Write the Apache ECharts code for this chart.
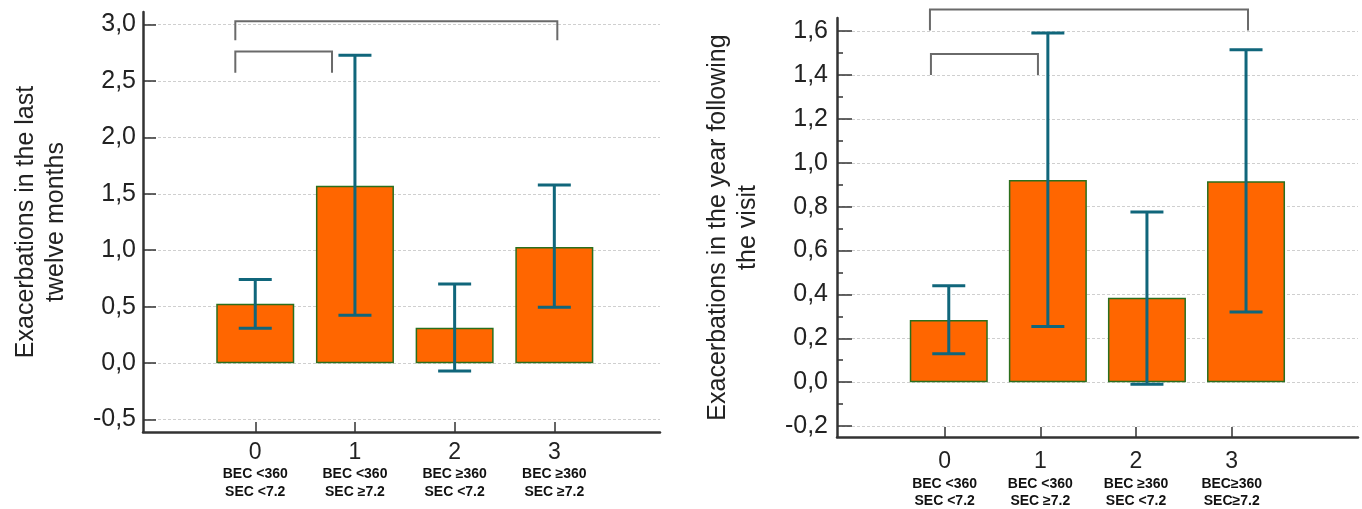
<!DOCTYPE html>
<html>
<head>
<meta charset="utf-8">
<script src="https://cdn.jsdelivr.net/npm/echarts@6/dist/echarts.min.js"></script>
<style>
html,body{margin:0;padding:0;background:#fff;}
#chart{width:1362px;height:509px;}
</style>
</head>
<body>
<div id="chart"></div>
<script>
// ---------- data ----------
const categories = ['0', '1', '2', '3'];
const positions = [0, 1, 2, 3];
const groupLabelsLeft = ['BEC <360\nSEC <7.2', 'BEC <360\nSEC ≥7.2', 'BEC ≥360\nSEC <7.2', 'BEC ≥360\nSEC ≥7.2'];
const groupLabelsRight = ['BEC <360\nSEC <7.2', 'BEC <360\nSEC ≥7.2', 'BEC ≥360\nSEC <7.2', 'BEC≥360\nSEC≥7.2'];

const lastYearMean = [0.527, 1.572, 0.314, 1.028];
const lastYearLow  = [0.31, 0.423, -0.07, 0.494];
const lastYearHigh = [0.74, 2.726, 0.70, 1.577];

const nextYearMean = [0.283, 0.922, 0.385, 0.916];
const nextYearLow  = [0.13, 0.254, -0.01, 0.32];
const nextYearHigh = [0.44, 1.592, 0.776, 1.515];

const leftTicks = [-0.5, 0, 0.5, 1, 1.5, 2, 2.5, 3];
const rightTicks = [-0.2, 0, 0.2, 0.4, 0.6, 0.8, 1.0, 1.2, 1.4, 1.6];
const rightMinorTicks = [-0.1, 0.1, 0.3, 0.5, 0.7, 0.9, 1.1, 1.3, 1.5];

const leftBracketStart  = [-0.2, -0.2];
const leftBracketEnd    = [3.03, 0.77];
const leftBracketTop    = [3.027, 2.76];
const leftBracketBottom = [2.86, 2.573];

const rightBracketStart  = [-0.19, -0.18];
const rightBracketEnd    = [3.02, 0.90];
const rightBracketTop    = [1.699, 1.496];
const rightBracketBottom = [1.603, 1.40];

const leftTitle = 'Exacerbations in the last\ntwelve months';
const rightTitle = 'Exacerbations in the year following\nthe visit';

// ---------- helpers ----------
const FONT = 'Liberation Sans, Arial, sans-serif';
const BAR_COLOR = '#FF6600';
const BAR_BORDER = '#2b6f1d';
const ERR_COLOR = '#10667b';
const BRACKET_COLOR = '#6a6a6a';
const AXIS_COLOR = '#333333';

function fmtComma(v) {
  return v.toFixed(1).replace('.', ',');
}

function errorRenderer(params, api) {
  const x = api.value(0), lo = api.value(1), hi = api.value(2);
  const pLo = api.coord([x, lo]);
  const pHi = api.coord([x, hi]);
  const half = 16.5;
  const style = { stroke: ERR_COLOR, lineWidth: 3 };
  return {
    type: 'group',
    children: [
      { type: 'line', shape: { x1: pLo[0], y1: pLo[1], x2: pHi[0], y2: pHi[1] }, style: style },
      { type: 'line', shape: { x1: pLo[0] - half, y1: pLo[1], x2: pLo[0] + half, y2: pLo[1] }, style: style },
      { type: 'line', shape: { x1: pHi[0] - half, y1: pHi[1], x2: pHi[0] + half, y2: pHi[1] }, style: style }
    ]
  };
}

function bracketRenderer(params, api) {
  const s = api.value(0), e = api.value(1), t = api.value(2), b = api.value(3);
  const pts = [api.coord([s, b]), api.coord([s, t]), api.coord([e, t]), api.coord([e, b])];
  return {
    type: 'polyline',
    shape: { points: pts },
    style: { stroke: BRACKET_COLOR, lineWidth: 2, fill: 'none' }
  };
}

function xLabel(groupLabels) {
  return function (v) {
    const i = Math.round(v);
    return '{n|' + categories[i] + '}\n{s|' + groupLabels[i] + '}';
  };
}

const gridLine = { show: true, lineStyle: { color: '#cfcfcf', type: [3, 2], width: 1 } };

const option = {
  animation: false,
  backgroundColor: '#ffffff',
  textStyle: { fontFamily: FONT },
  grid: [
    { left: 143, top: 12, width: 517, height: 420, outerBoundsMode: 'none', containLabel: false },
    { left: 837, top: 18, width: 521, height: 419, outerBoundsMode: 'none', containLabel: false }
  ],
  xAxis: [
    {
      gridIndex: 0, type: 'value', min: -1.126, max: 4.06,
      axisLine: { onZero: false, lineStyle: { color: AXIS_COLOR, width: 2.5 } },
      axisTick: { customValues: positions, inside: true, length: 10, lineStyle: { color: AXIS_COLOR, width: 1.5 } },
      axisLabel: {
        customValues: positions, margin: 9, color: '#222', formatter: xLabel(groupLabelsLeft),
        rich: {
          n: { fontSize: 23, lineHeight: 24, fontFamily: FONT, color: '#222' },
          s: { fontSize: 14, lineHeight: 18, fontWeight: 'bold', fontFamily: FONT, color: '#111' }
        }
      },
      splitLine: { show: false }
    },
    {
      gridIndex: 1, type: 'value', min: -1.125, max: 4.32,
      axisLine: { onZero: false, lineStyle: { color: AXIS_COLOR, width: 2.5 } },
      axisTick: { customValues: positions, inside: true, length: 10, lineStyle: { color: AXIS_COLOR, width: 1.5 } },
      axisLabel: {
        customValues: positions, margin: 11, color: '#222', formatter: xLabel(groupLabelsRight),
        rich: {
          n: { fontSize: 23, lineHeight: 28, fontFamily: FONT, color: '#222' },
          s: { fontSize: 14, lineHeight: 17, fontWeight: 'bold', fontFamily: FONT, color: '#111' }
        }
      },
      splitLine: { show: false }
    },
    {
      gridIndex: 1, type: 'value', min: -1.128, max: 4.13, show: false
    }
  ],
  yAxis: [
    {
      gridIndex: 0, type: 'value', min: -0.61, max: 3.11, position: 'left',
      name: leftTitle, nameLocation: 'middle', nameRotate: 90, nameGap: 72,
      nameTextStyle: { fontSize: 25, lineHeight: 30, color: '#222', fontFamily: FONT },
      axisLine: { show: true, onZero: false, lineStyle: { color: AXIS_COLOR, width: 2.5 } },
      axisTick: { customValues: leftTicks, inside: true, length: 13, lineStyle: { color: AXIS_COLOR, width: 1.5 } },
      axisLabel: { customValues: leftTicks, fontSize: 25, color: '#222', margin: 7, formatter: fmtComma },
      splitLine: gridLine
    },
    {
      gridIndex: 1, type: 'value', min: -0.25, max: 1.66, position: 'left',
      name: rightTitle, nameLocation: 'middle', nameRotate: 90, nameGap: 74,
      nameTextStyle: { fontSize: 25, lineHeight: 30, color: '#222', fontFamily: FONT },
      axisLine: { show: true, onZero: false, lineStyle: { color: AXIS_COLOR, width: 2.5 } },
      axisTick: { customValues: rightTicks, inside: true, length: 15, lineStyle: { color: AXIS_COLOR, width: 1.5 } },
      axisLabel: { customValues: rightTicks, fontSize: 25, color: '#222', margin: 9, formatter: fmtComma },
      splitLine: gridLine
    },
    {
      gridIndex: 1, type: 'value', min: -0.25, max: 1.66, position: 'left', offset: 0,
      axisLine: { show: false, onZero: false },
      axisTick: { show: true, customValues: rightMinorTicks, inside: true, length: 6, lineStyle: { color: AXIS_COLOR, width: 1.5 } },
      axisLabel: { show: false },
      splitLine: { show: false }
    }
  ],
  series: [
    {
      type: 'bar', xAxisIndex: 0, yAxisIndex: 0, barWidth: 78,
      data: positions.map((p, i) => [p, lastYearMean[i]]),
      itemStyle: { color: BAR_COLOR, borderColor: BAR_BORDER, borderWidth: 1.5 }
    },
    {
      type: 'custom', xAxisIndex: 0, yAxisIndex: 0, renderItem: errorRenderer, z: 5,
      encode: { x: 0, y: [1, 2] },
      data: positions.map((p, i) => [p, lastYearLow[i], lastYearHigh[i]])
    },
    {
      type: 'custom', xAxisIndex: 0, yAxisIndex: 0, renderItem: bracketRenderer, z: 5, clip: false,
      encode: { x: [0, 1], y: [2, 3] },
      data: leftBracketStart.map((s, i) => [s, leftBracketEnd[i], leftBracketTop[i], leftBracketBottom[i]])
    },
    {
      type: 'bar', xAxisIndex: 2, yAxisIndex: 1, barWidth: 78,
      data: positions.map((p, i) => [p, nextYearMean[i]]),
      itemStyle: { color: BAR_COLOR, borderColor: BAR_BORDER, borderWidth: 1.5 }
    },
    {
      type: 'custom', xAxisIndex: 2, yAxisIndex: 1, renderItem: errorRenderer, z: 5,
      encode: { x: 0, y: [1, 2] },
      data: positions.map((p, i) => [p, nextYearLow[i], nextYearHigh[i]])
    },
    {
      type: 'custom', xAxisIndex: 2, yAxisIndex: 1, renderItem: bracketRenderer, z: 5, clip: false,
      encode: { x: [0, 1], y: [2, 3] },
      data: rightBracketStart.map((s, i) => [s, rightBracketEnd[i], rightBracketTop[i], rightBracketBottom[i]])
    }
  ]
};

const chart = echarts.init(document.getElementById('chart'), null, { renderer: 'canvas' });
chart.setOption(option);
</script>
</body>
</html>
